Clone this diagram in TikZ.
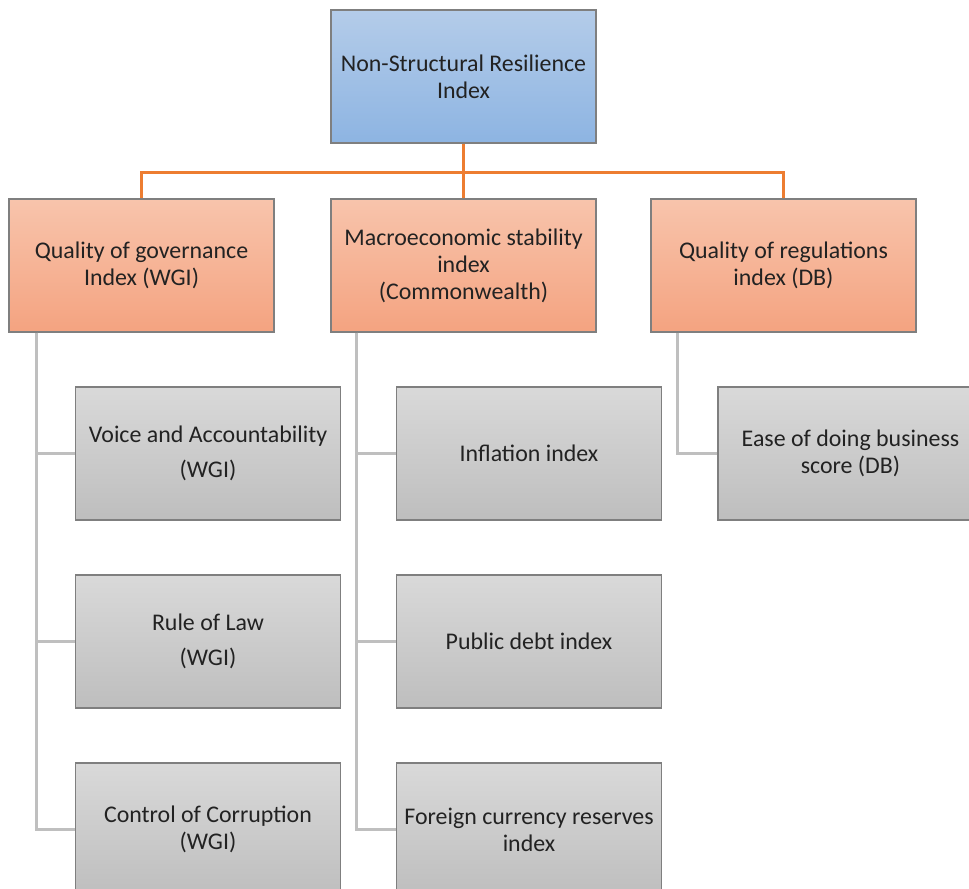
\documentclass[tikz,border=0pt]{standalone}
\usepackage{fontspec}
\setmainfont{Carlito}
\definecolor{bluetop}{HTML}{B4CCE9}
\definecolor{bluebot}{HTML}{8DB4E2}
\definecolor{orgtop}{HTML}{F8C4AC}
\definecolor{orgbot}{HTML}{F4A380}
\definecolor{grytop}{HTML}{D9D9D9}
\definecolor{grybot}{HTML}{BEBEBE}
\definecolor{orgline}{HTML}{ED7D31}
\definecolor{gryline}{HTML}{BFBFBF}
\definecolor{boxedge}{HTML}{7F7F7F}
\definecolor{txt}{HTML}{222222}
\begin{document}
\begin{tikzpicture}[x=0.02cm, y=-0.02cm,
    every node/.style={font=\fontsize{13.6}{15.3}\selectfont, text=txt, align=center},
    box/.style={draw=boxedge, line width=0.8pt, minimum width=5.3cm, minimum height=2.66cm, inner sep=2pt},
    rootbox/.style={box, top color=bluetop, bottom color=bluebot},
    catbox/.style={box, top color=orgtop, bottom color=orgbot},
    leafbox/.style={box, top color=grytop, bottom color=grybot},
    orgconn/.style={draw=orgline, line width=1.7pt},
    gryconn/.style={draw=gryline, line width=1.7pt}]
    \useasboundingbox (0,0) rectangle (969,888);
    \clip (0,0) rectangle (969,888);
    % top
    \node[rootbox] (nsri) at (463.5,76.5) {Non-Structural Resilience\\Index};
    % categories
    \node[catbox] (gov) at (141.5,265.5) {Quality of governance\\Index (WGI)};
    \node[catbox] (macro) at (463.5,265.5) {Macroeconomic stability\\index\\(Commonwealth)};
    \node[catbox] (reg) at (783.5,265.5) {Quality of regulations\\index (DB)};
    % indicators
    \node[leafbox] (voice) at (208,453.5) {Voice and Accountability\\[4.5pt](WGI)};
    \node[leafbox] (law) at (208,641.5) {Rule of Law\\[5pt](WGI)};
    \node[leafbox] (corr) at (208,829.5) {Control of Corruption\\(WGI)};
    \node[leafbox] (infl) at (529,453.5) {Inflation index};
    \node[leafbox] (debt) at (529,641.5) {Public debt index};
    \node[leafbox] (fx) at (529,829.5) {Foreign currency reserves\\index};
    \node[leafbox] (ease) at (850.5,453.5) {Ease of doing business\\score (DB)};
    % connectors
    \foreach \c in {gov,macro,reg}
        \draw[orgconn] (nsri.south) -- ++(0,29) -| (\c.north);
    \foreach \c in {voice,law,corr}
        \draw[gryconn] ([xshift=0.56cm]gov.south west) |- (\c.west);
    \foreach \c in {infl,debt,fx}
        \draw[gryconn] ([xshift=0.52cm]macro.south west) |- (\c.west);
    \draw[gryconn] ([xshift=0.54cm]reg.south west) |- (ease.west);
\end{tikzpicture}
\end{document}
